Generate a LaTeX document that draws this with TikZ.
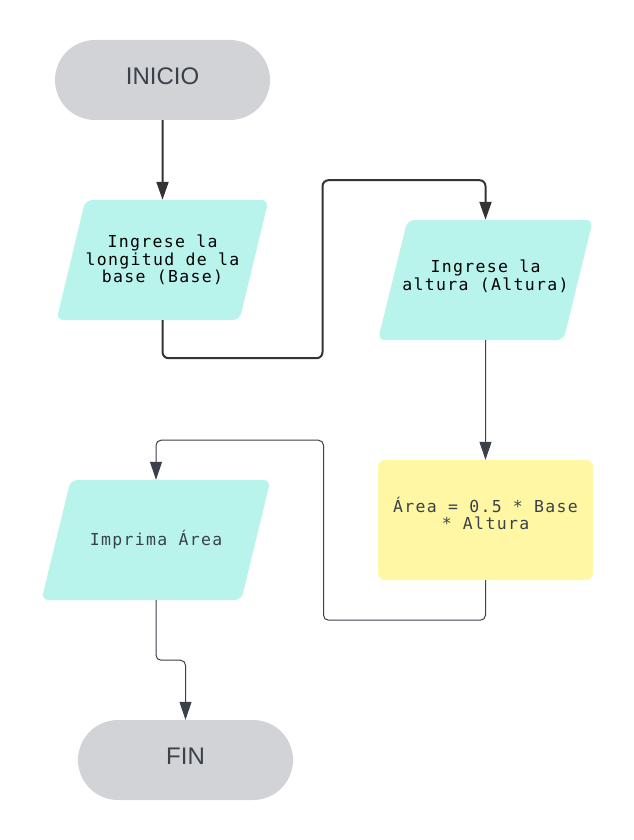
\documentclass[tikz,border=0pt]{standalone}
\usepackage{fontspec}
\setmainfont{Liberation Sans}
\newfontfamily\codefont{DejaVu Sans Mono}[LetterSpace=8.0]
\usetikzlibrary{arrows.meta,positioning,shapes.geometric}

\definecolor{termgray}{HTML}{D1D3D6}
\definecolor{iocyan}{HTML}{B8F4EC}
\definecolor{procyellow}{HTML}{FFF7A3}
\definecolor{inkgray}{HTML}{3A414A}
\definecolor{linedark}{HTML}{333333}

\begin{document}
\begin{tikzpicture}[x=1pt, y=-1pt, on grid, >={Triangle[length=18pt,width=12pt]},
    term/.style={rectangle, fill=termgray, rounded corners=40pt, minimum width=215pt, minimum height=80pt, inner sep=0pt, text depth=8pt, text=inkgray, font=\fontsize{24}{26}\selectfont},
    io/.style={trapezium, trapezium left angle=76, trapezium right angle=104, trapezium stretches body, fill=iocyan, rounded corners=7pt, minimum height=120pt, inner xsep=0pt, align=center, font=\codefont\fontsize{16.5}{17.5}\selectfont},
    proc/.style={rectangle, fill=procyellow, rounded corners=7pt, minimum width=215pt, minimum height=120pt, inner sep=0pt, text depth=13pt, align=center, text=inkgray, font=\codefont\fontsize{16.5}{17.5}\selectfont},
    flow/.style={->, draw=inkgray, line width=1pt, rounded corners=5pt},
    flowthick/.style={->, draw=linedark, line width=2pt, rounded corners=6pt}]
    \useasboundingbox (0,0) rectangle (633,840);

    % Nodes {inicio, in1, in2, calc, out, fin}
    \node [term]                        (inicio) at (162.5,80)                    {INICIO};
    \node [io, minimum width=212pt, inner ysep=33pt] (in1) [below=180pt of inicio] {Ingrese la\\longitud de la\\base (Base)};
    \node [io, inner xsep=-5pt, inner ysep=39pt, text depth=10pt] (in2) [below right=20pt and 323pt of in1] {Ingrese la\\altura (Altura)};
    \node [proc]                        (calc) [below=240pt of in2]                {Área = 0.5 * Base\\* Altura};
    \node [io, minimum width=229pt, inner ysep=49pt, text=inkgray] (out) [below left=20pt and 329.5pt of calc] {Imprima Área};
    \node [term]                        (fin)  [below right=220pt and 29.5pt of out] {FIN};

    % Paths
    \draw [flowthick] (inicio.south) -- (in1.north);
    \draw [flowthick] (in1.south) -- ++(0,38) -| ++(160,-178) -| (in2.north);
    \draw [flow]      (in2.south) -- (calc.north);
    \draw [flow]      (calc.south) -- ++(0,40) -| ++(-162,-180) -| (out.north);
    \draw [flow]      (out.south) -- ++(0,60) -| (fin.north);
\end{tikzpicture}
\end{document}
